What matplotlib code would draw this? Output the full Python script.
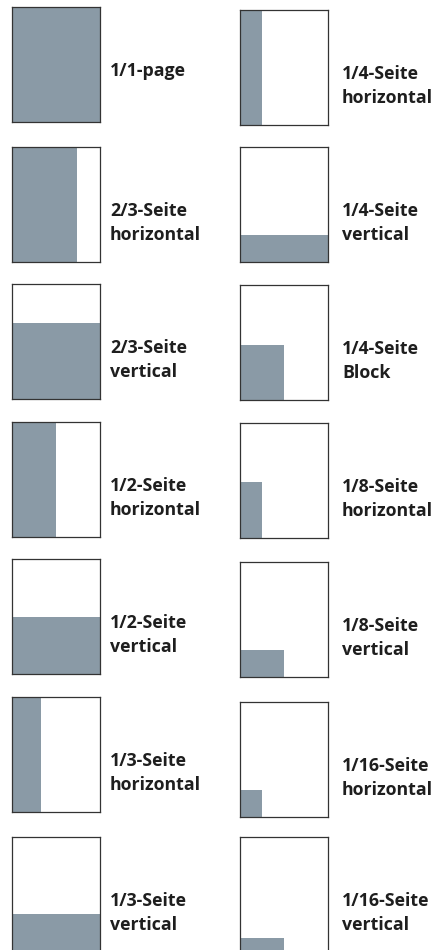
import matplotlib
matplotlib.use("Agg")
import matplotlib.pyplot as plt

# Anzeigenformate: Beschriftung und Anteil der Seite (Breite x Hoehe)
labels_left = ["1/1-page", "2/3-Seite\nhorizontal", "2/3-Seite\nvertical",
               "1/2-Seite\nhorizontal", "1/2-Seite\nvertical",
               "1/3-Seite\nhorizontal", "1/3-Seite\nvertical"]
fill_w_left = [1.0, 0.735, 1.0, 0.5, 1.0, 0.33, 1.0]
fill_h_left = [1.0, 1.0, 0.665, 1.0, 0.495, 1.0, 0.33]

labels_right = ["1/4-Seite\nhorizontal", "1/4-Seite\nvertical", "1/4-Seite\nBlock",
                "1/8-Seite\nhorizontal", "1/8-Seite\nvertical",
                "1/16-Seite\nhorizontal", "1/16-Seite\nvertical"]
fill_w_right = [0.25, 1.0, 0.5, 0.25, 0.5, 0.25, 0.5]
fill_h_right = [1.0, 0.235, 0.48, 0.49, 0.235, 0.235, 0.12]

W, H = 433, 950
FILL = "#8a9aa6"
EDGE = "#333333"
TXT = "#1e1e1e"

plt.rcParams['font.family'] = ['Open Sans', 'DejaVu Sans']

fig = plt.figure(figsize=(W / 100, H / 100), dpi=100)

box_w, box_h = 88, 115
tops_left = [7, 147, 284, 422, 559, 697, 837]
tops_right = [10, 147, 285, 423, 562, 702, 837]


def panel(x0, top, fw, fh, label, gap):
    ax = fig.add_axes([x0 / W, 1 - (top + box_h) / H, box_w / W, box_h / H])
    ax.bar(0, fh, width=fw, align='edge', color=FILL, linewidth=0)
    ax.set_xlim(0, 1)
    ax.set_ylim(0, 1)
    ax.set_xticks([])
    ax.set_yticks([])
    for s in ax.spines.values():
        s.set_color(EDGE)
        s.set_linewidth(0.9)
    lines = label.split("\n")
    for i, ln in enumerate(lines):
        y = top + 69 + i * 24
        fig.text((x0 + box_w + gap) / W, 1 - y / H, ln, ha='left', va='baseline',
                 fontsize=12.8, fontweight='bold', color=TXT)


for t, fw, fh, lab in zip(tops_left, fill_w_left, fill_h_left, labels_left):
    panel(12, t, fw, fh, lab, 10)
for t, fw, fh, lab in zip(tops_right, fill_w_right, fill_h_right, labels_right):
    panel(240, t, fw, fh, lab, 14)

fig.savefig("out.png", dpi=100, facecolor="white")
